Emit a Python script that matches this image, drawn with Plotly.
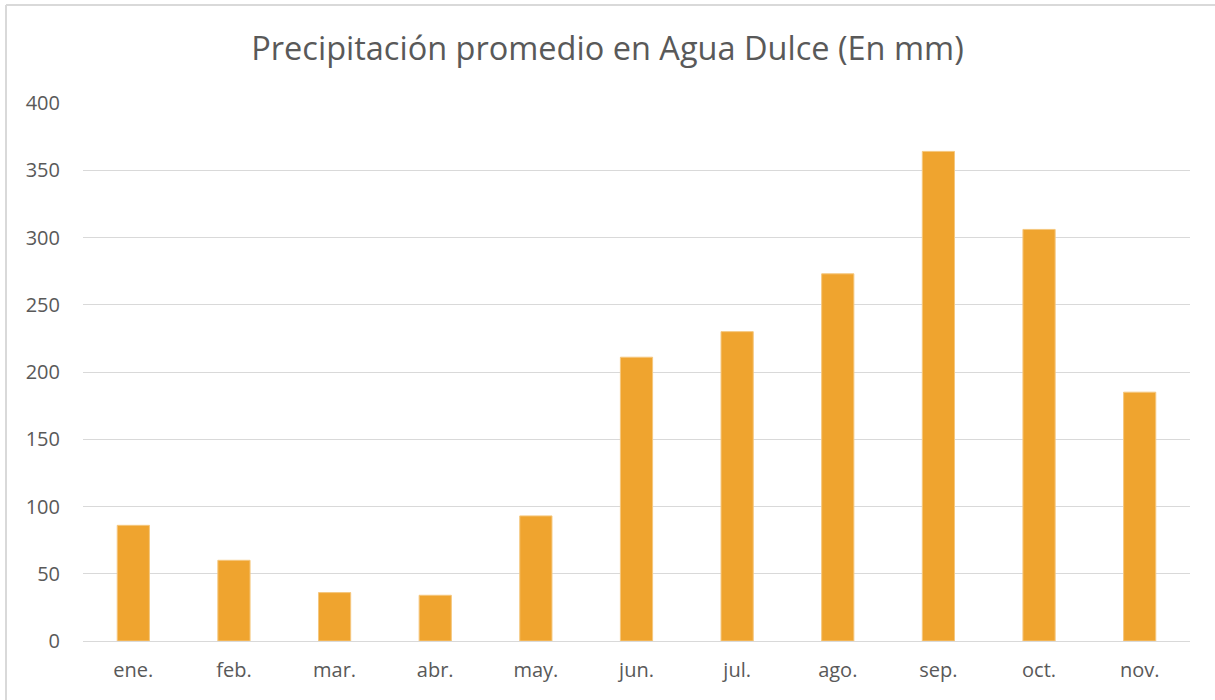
import plotly.graph_objects as go

months = ["ene.", "feb.", "mar.", "abr.", "may.", "jun.", "jul.", "ago.", "sep.", "oct.", "nov."]
precip = [86, 60, 36, 34, 93, 211, 230, 273, 364, 306, 185]
yticks = [0, 50, 100, 150, 200, 250, 300, 350, 400]

W, H = 1215, 700
ml, mr, mt, mb = 83, 25, 103, 59
pw, ph = W - ml - mr, H - mt - mb

fig = go.Figure(go.Bar(
    x=months, y=precip,
    marker=dict(color="#EFA42F", line=dict(color="#F5C77E", width=1)),
    width=0.32,
))

fig.update_layout(
    width=W, height=H,
    margin=dict(l=ml, r=mr, t=mt, b=mb),
    paper_bgcolor="white", plot_bgcolor="white",
    font=dict(family="Open Sans, Carlito, sans-serif", color="#595959", size=20),
    title=dict(text="Precipitación promedio en Agua Dulce (En mm)",
               x=0.5, xanchor="center", y=1 - 49 / H, yanchor="middle",
               font=dict(size=32.5, color="#595959")),
    showlegend=False,
)
fig.update_yaxes(range=[0, 400], tickvals=yticks, showgrid=True, gridcolor="#D9D9D9",
                 gridwidth=1, zeroline=False, showline=False,
                 ticks="outside", ticklen=18, tickcolor="rgba(0,0,0,0)")
fig.update_xaxes(showline=True, linecolor="#D9D9D9", linewidth=1,
                 ticks="outside", ticklen=11, tickcolor="rgba(0,0,0,0)")

# outer chart border (left and top edges visible in the cropped picture)
bx0 = (6 - ml) / pw
by0 = -(H + 10 - (mt + ph)) / ph
by1 = (mt + ph - 5) / ph
bx1 = (W + 10 - ml) / pw
fig.add_shape(type="line", xref="paper", yref="paper", x0=bx0, x1=bx0, y0=by0, y1=by1,
              line=dict(color="#D9D9D9", width=2))
fig.add_shape(type="line", xref="paper", yref="paper", x0=bx0, x1=bx1, y0=by1, y1=by1,
              line=dict(color="#D9D9D9", width=2))

fig.write_html("out.html", config={"displayModeBar": False},
               post_script="document.body.style.margin='0';document.body.style.overflow='hidden';")
